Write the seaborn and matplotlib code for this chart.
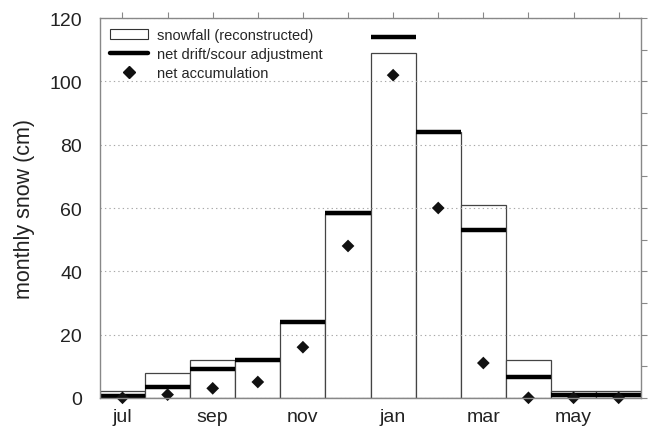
import numpy as np
import pandas as pd
import matplotlib
matplotlib.use("Agg")
import matplotlib.pyplot as plt
from matplotlib.lines import Line2D
from matplotlib.patches import Patch
import seaborn as sns

# values
months = ["jul", "aug", "sep", "oct", "nov", "dec", "jan", "feb", "mar", "apr", "may", "jun"]
snowfall = [2, 8, 12, 12, 24, 58, 109, 84, 61, 12, 2, 2]
drift = [0.6, 3.5, 9, 12, 24, 58.5, 114, 84, 53, 6.5, 1, 1]
accum = [0, 1, 3, 5, 16, 48, 102, 60, 11, 0, 0, 0]
tick_labels = ["jul", "", "sep", "", "nov", "", "jan", "", "mar", "", "may", ""]

sns.set_style("white")
plt.rcParams["font.family"] = ["Liberation Sans", "DejaVu Sans"]

df = pd.DataFrame({"month": months, "snowfall": snowfall, "drift": drift, "accum": accum})

fig = plt.figure(figsize=(6.49, 4.27), dpi=100)
ax = fig.add_axes([0.154, 0.066, 0.834, 0.889])

sns.barplot(data=df, x="month", y="snowfall", width=1.0, color="white",
            edgecolor="#444444", linewidth=0.9, saturation=1, ax=ax, zorder=1)

# drift/scour adjustment as thick bars spanning each month
pos = np.arange(len(months))
ax.hlines(df["drift"], pos - 0.5, pos + 0.5, color="black", linewidth=3.2, zorder=4)

sns.scatterplot(data=df, x="month", y="accum", marker="D", color="#111111",
                s=42, edgecolor="none", ax=ax, zorder=5, clip_on=False)

ax.set_xlim(-0.5, 11.5)
ax.set_ylim(0, 120)
ax.set_yticks(np.arange(0, 121, 20))
ax.set_yticks(np.arange(10, 120, 20), minor=True)
ax.set_xticks(pos)
ax.set_xticklabels(tick_labels)
ax.yaxis.grid(True, linestyle=(0, (1.2, 2.8)), color="#a8a8a8", linewidth=0.8, zorder=3)
ax.set_axisbelow(False)

for s in ax.spines.values():
    s.set_color("#888888")
    s.set_linewidth(1.0)
    s.set_zorder(6)

ax.tick_params(axis="both", which="both", direction="out", color="#888888",
               labelsize=14, labelcolor="#222222", top=True, right=True,
               length=4, width=0.8)
ax.tick_params(axis="y", which="major", pad=9)
ax.tick_params(axis="x", pad=3)
ax.set_xlabel("")
ax.set_ylabel("monthly snow (cm)", fontsize=15.5, color="#222222", labelpad=10)

handles = [
    Patch(facecolor="white", edgecolor="#333333", linewidth=0.8),
    Line2D([], [], color="black", linewidth=3.2),
    Line2D([], [], marker="D", linestyle="none", color="#111111", markersize=6.5),
]
ax.legend(handles, ["snowfall (reconstructed)", "net drift/scour adjustment", "net accumulation"],
          loc="upper left", frameon=False, fontsize=10.5, handlelength=2.6,
          labelspacing=0.32, borderaxespad=0.3, handletextpad=0.6,
          bbox_to_anchor=(0.0, 1.0))

fig.savefig("out.png", dpi=100)
